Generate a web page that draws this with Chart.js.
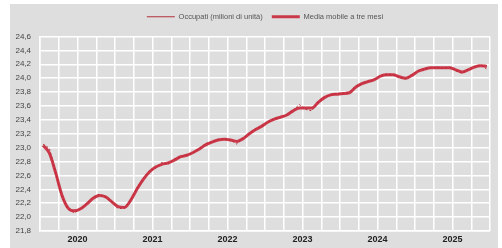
<!DOCTYPE html>
<html>
<head>
<meta charset="utf-8">
<script src="https://cdn.jsdelivr.net/npm/chart.js@4.4.1/dist/chart.umd.min.js"></script>
<style>
  html, body { margin: 0; padding: 0; background: #ffffff; }
  canvas { display: block; }
</style>
</head>
<body>
<canvas id="c" width="502" height="248"></canvas>
<script>
// Year labels (one per year band, Jan 2020 – Dec 2025)
const years = ['2020', '2021', '2022', '2023', '2024', '2025'];

// Occupati (milioni di unità), monthly, Jan 2020 – Dec 2025
const occupati = [
  23.05, 22.99, 22.65, 22.28, 22.12, 22.06, 22.12, 22.20, 22.29, 22.33, 22.29, 22.22,
  22.12, 22.13, 22.24, 22.42, 22.56, 22.67, 22.70, 22.79, 22.76, 22.84, 22.86, 22.90,
  22.92, 22.99, 23.06, 23.08, 23.12, 23.13, 23.11, 23.05, 23.14, 23.20, 23.27, 23.31,
  23.37, 23.42, 23.43, 23.48, 23.54, 23.62, 23.55, 23.53, 23.66, 23.73, 23.76, 23.78,
  23.77, 23.80, 23.88, 23.92, 23.96, 23.98, 24.04, 24.06, 24.05, 24.01, 23.99, 24.05,
  24.11, 24.14, 24.15, 24.16, 24.14, 24.16, 24.11, 24.07, 24.13, 24.17, 24.19, 24.13
];

// Media mobile a tre mesi, monthly, Jan 2020 – Dec 2025
const mediaMobile = [
  23.03, 22.92, 22.64, 22.32, 22.13, 22.09, 22.12, 22.19, 22.27, 22.31, 22.29, 22.22,
  22.15, 22.14, 22.24, 22.40, 22.54, 22.65, 22.72, 22.76, 22.78, 22.82, 22.87, 22.89,
  22.93, 22.98, 23.04, 23.08, 23.11, 23.12, 23.11, 23.09, 23.13, 23.20, 23.26, 23.31,
  23.37, 23.41, 23.44, 23.47, 23.53, 23.57, 23.57, 23.57, 23.65, 23.72, 23.76, 23.77,
  23.78, 23.79, 23.87, 23.92, 23.95, 23.98, 24.03, 24.05, 24.05, 24.02, 24.00, 24.04,
  24.10, 24.13, 24.15, 24.15, 24.15, 24.15, 24.12, 24.09, 24.12, 24.16, 24.18, 24.17
];

const FONT = "'Liberation Sans Narrow', 'Liberation Sans', Arial, sans-serif";

const bgPlugin = {
  id: 'bg',
  beforeDraw(chart) {
    const c = chart.ctx;
    c.save();
    c.fillStyle = '#ffffff';
    c.fillRect(0, 0, chart.width, chart.height);
    c.fillStyle = '#dedede';
    c.fillRect(10, 4, 488, chart.height - 4);
    c.restore();
  }
};

new Chart(document.getElementById('c'), {
  type: 'line',
  data: {
    datasets: [
      {
        label: 'Occupati (milioni di unità)',
        data: occupati.map((v, i) => ({ x: i + 0.5, y: v })),
        borderColor: '#b3303c',
        borderWidth: 1,
        borderDash: [2, 2],
        pointRadius: 0,
        tension: 0,
        order: 2
      },
      {
        label: 'Media mobile a tre mesi',
        data: mediaMobile.map((v, i) => ({ x: i + 0.5, y: v })),
        borderColor: 'rgba(198,34,52,0.88)',
        borderWidth: 3,
        pointRadius: 0,
        cubicInterpolationMode: 'monotone',
        order: 1
      }
    ]
  },
  options: {
    responsive: false,
    animation: false,
    devicePixelRatio: 1,
    layout: { padding: { left: 10, right: 12, top: 4, bottom: 0 } },
    plugins: {
      legend: {
        position: 'top',
        fullSize: false,
        labels: {
          usePointStyle: true,
          pointStyle: 'line',
          pointStyleWidth: 28,
          padding: 9,
          color: '#555555',
          font: { family: FONT, size: 7.5 },
          sort: (a, b) => a.datasetIndex - b.datasetIndex
        }
      },
      title: {
        display: true,
        fullSize: false,
        text: '',
        weight: 500,
        padding: 0,
        font: { size: 6, lineHeight: 1 }
      },
      tooltip: { enabled: false }
    },
    scales: {
      x: {
        type: 'linear',
        min: 0,
        max: 72,
        afterBuildTicks: (s) => {
          const t = [];
          for (let k = 0; k <= 72; k += 3) t.push({ value: k });
          s.ticks = t;
        },
        ticks: {
          autoSkip: false,
          maxRotation: 0,
          padding: 3,
          color: '#222222',
          font: { family: FONT, size: 9, weight: 'bold' },
          callback: (v) => (v % 12 === 6 ? years[(v - 6) / 12] : '')
        },
        grid: { color: '#ffffff', lineWidth: 1.5, drawTicks: false },
        border: { color: '#ffffff', width: 1.5 },
        afterFit: (s) => { s.height = 17; }
      },
      y: {
        min: 21.8,
        max: 24.6,
        ticks: {
          stepSize: 0.2,
          padding: 9,
          color: '#444444',
          font: { family: FONT, size: 8 },
          callback: (v) => Number(v).toFixed(1).replace('.', ',')
        },
        grid: { color: '#ffffff', lineWidth: 1.5, drawTicks: false },
        border: { color: '#ffffff', width: 1.5 },
        afterFit: (s) => { s.width = 30; }
      }
    }
  },
  plugins: [bgPlugin]
});
</script>
</body>
</html>
